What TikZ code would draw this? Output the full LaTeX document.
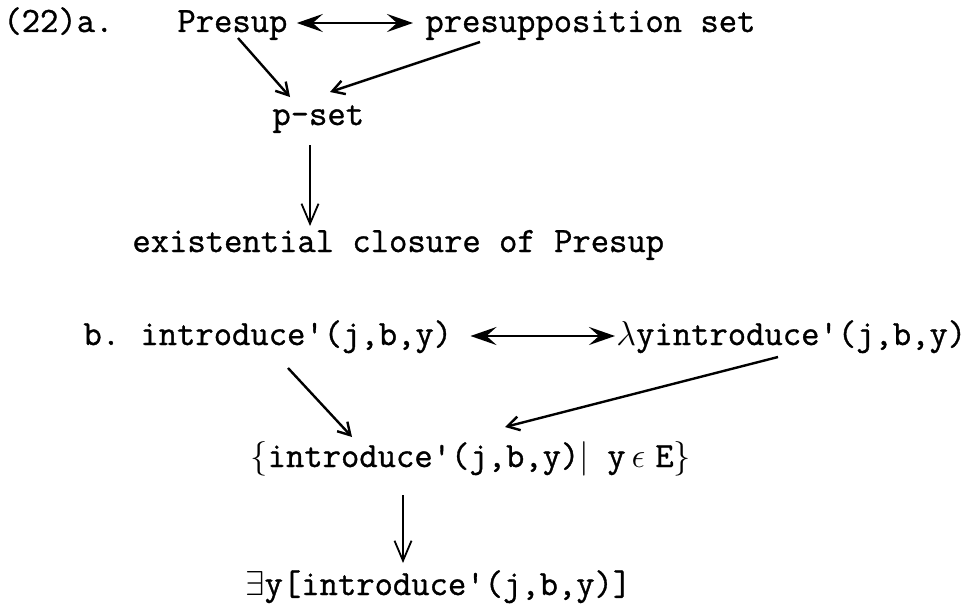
\documentclass[tikz,border=0pt]{standalone}
\usepackage{fontspec}
\setmonofont{Latin Modern Mono}[FakeBold=1]
\usetikzlibrary{arrows.meta}
\usetikzlibrary{calc}

\begin{document}
\begin{tikzpicture}
			[
				x = 0.5pt, y = -0.5pt,
				txt/.style = {anchor = base west, inner sep = 0pt, font = \ttfamily\fontsize{17.8}{20}\selectfont},
				link/.style = {line width = 1.2pt, -{Straight Barb[length = 6pt, width = 7pt]}},
				down/.style = {line width = 0.9pt, -{Straight Barb[length = 10pt, width = 8.5pt]}},
				both/.style = {line width = 1.3pt, {Stealth[length = 13pt, width = 9pt, inset = 5pt]}-{Stealth[length = 13pt, width = 9pt, inset = 5pt]}},
			]
			\useasboundingbox (0,0) rectangle (978,605);
			% part a
			\node (labela) [txt] at (3,32) {(22)a.};
			\node (presup) [txt] at (177,32) {Presup};
			\node (presupset) [txt] at (425,32) {presupposition set};
			\node (pset) [txt] at (272,125) {p-set};
			\node (closure) [txt] at (132,252) {existential closure of Presup};
			\draw [both] ($(presup.base east)+(9,-9)$) -- ($(presupset.base west)+(-12,-9)$);
			\draw [link] ($(presup.base west)+(61,6)$) -- ($(pset.base west)+(18,-28)$);
			\draw [link] ($(presupset.base west)+(55,10)$) -- ($(pset.base west)+(58,-33)$);
			\draw [down] ($(pset.base west)+(38,20)$) -- ($(closure.base west)+(178,-26)$);
			% part b
			\node (labelb) [txt] at (83,345) {b.};
			\node (intro) [txt] at (140,345) {introduce'(j,b,y)};
			\node (lambda) [txt] at (616,345) {$\lambda$yintroduce'(j,b,y)};
			\node (setof) [txt] at (250,467) {$\bigl\{$introduce'(j,b,y)$|$ y\kern3pt$\epsilon$\kern5pt E$\bigr\}$};
			\node (exists) [txt] at (245,595) {$\exists$y[introduce'(j,b,y)]};
			\draw [both] ($(intro.base east)+(18,-9)$) -- ($(lambda.base west)+(-1,-9)$);
			\draw [link] ($(intro.base west)+(148,23)$) -- ($(setof.base west)+(102,-30)$);
			\draw [link] ($(lambda.base west)+(162,12)$) -- ($(setof.base west)+(255,-40)$);
			\draw [down] ($(setof.base west)+(153,28)$) -- ($(exists.base west)+(158,-32)$);
		\end{tikzpicture}
\end{document}
